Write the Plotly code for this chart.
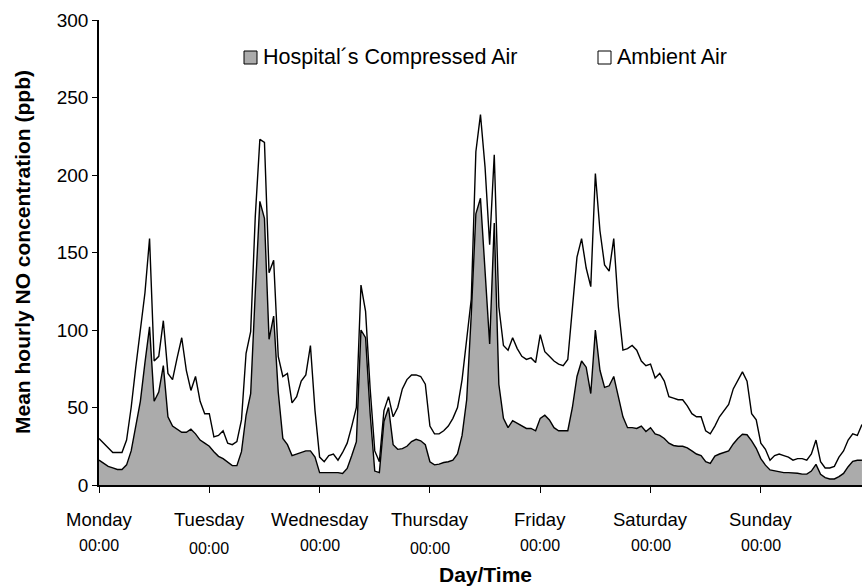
import plotly.graph_objects as go

hours = list(range(167))

ambient = [30, 27, 24, 21, 21, 21, 29, 50, 76, 100, 124, 159, 80, 83, 106, 72, 68, 82, 95, 74,
           61, 70, 54, 46, 46, 31, 32, 35, 27, 26, 28, 42, 85, 99, 173, 223, 221, 137, 145, 83,
           70, 72, 53, 57, 67, 71, 90, 48, 18, 15, 19, 20, 16, 21, 27, 38, 50, 129, 112, 62,
           22, 15, 48, 57, 44, 50, 62, 68, 71, 71, 70, 65, 38, 33, 33, 35, 38, 43, 50, 68,
           95, 120, 215, 239, 205, 155, 213, 115, 90, 87, 95, 88, 83, 81, 82, 79, 97, 86, 83, 80,
           78, 77, 81, 112, 147, 159, 140, 128, 201, 164, 142, 138, 159, 115, 87, 88, 90, 87, 80, 77,
           78, 69, 72, 67, 57, 56, 55, 55, 51, 46, 44, 44, 35, 33, 38, 44, 48, 52, 62, 68,
           73, 67, 46, 42, 27, 23, 16, 19, 20, 19, 18, 16, 17, 17, 16, 20, 29, 15, 11, 11,
           12, 18, 22, 29, 33, 32, 39]

hospital = [16, 14, 12, 11, 10, 10, 13, 22, 38, 54, 79, 102, 54, 60, 77, 44, 38, 36, 34, 34,
            36, 33, 29, 27, 25, 21.5, 18.5, 17, 15, 12.5, 12.5, 21.5, 45, 59, 124, 183, 172, 94, 109, 60,
            30, 26, 19, 20, 21, 22, 22, 18, 8, 8, 8, 8, 8, 7.5, 10.7, 19, 28, 100, 95, 46,
            9, 8, 41, 50, 26, 23, 23.5, 25, 28, 29.5, 28.5, 26, 15, 13, 13.5, 14.5, 15, 16, 20, 32,
            55, 110, 175, 185, 140, 91, 169, 65, 43, 37, 41.5, 40, 38, 36.5, 36.5, 35, 43, 45, 42, 37,
            35, 35, 35, 50, 70, 80, 76, 59, 100, 74, 63, 64, 70, 57, 44, 37, 37, 36.5, 38, 34.5,
            37, 33, 32, 30, 27, 25.5, 25, 25, 24, 22, 20, 19, 15, 14, 18.7, 20, 21, 22, 26.5, 30,
            32.7, 32.4, 28.5, 23.7, 17, 12.8, 9.7, 9, 8.6, 8, 8, 8, 7.6, 7, 7, 9, 13.3, 6.9, 4.8, 3.9,
            3.9, 5.4, 7.5, 11.8, 15.3, 16, 16]

day_names = ["Monday", "Tuesday", "Wednesday", "Thursday", "Friday", "Saturday", "Sunday"]
day_hours = [0, 24, 48, 72, 96, 120, 144]
time_label = "00:00"
y_ticks = [0, 50, 100, 150, 200, 250, 300]

FONT = "Liberation Sans, Arial, sans-serif"

fig = go.Figure()
fig.add_trace(go.Scatter(x=hours, y=ambient, mode="lines",
                         line=dict(color="black", width=1.4), showlegend=False,
                         hoverinfo="skip"))
fig.add_trace(go.Scatter(x=hours, y=hospital, mode="lines", fill="tozeroy",
                         fillcolor="#ababab", line=dict(color="black", width=1.4),
                         showlegend=False, hoverinfo="skip"))

W, H = 862, 587
L, R, T, B = 99, 0, 20, 102
pw, ph = W - L - R, H - T - B


def px(x):
    return (x - L) / pw


def py(y):
    return (H - B - y) / ph


annotations = []
time_offsets = [0, 3, 0, 3, 0, 0, 0]
for d, h, off in zip(day_names, day_hours, time_offsets):
    annotations.append(dict(x=h, y=py(519), xref="x", yref="paper", text=d,
                            showarrow=False, xanchor="center", yanchor="middle",
                            font=dict(family=FONT, size=18.5, color="black")))
    annotations.append(dict(x=h, y=py(545 + off), xref="x", yref="paper", text=time_label,
                            showarrow=False, xanchor="center", yanchor="middle",
                            font=dict(family=FONT, size=16, color="black")))

annotations.append(dict(x=px(261), y=py(57), xref="paper", yref="paper",
                        text="Hospital´s Compressed Air", showarrow=False,
                        xanchor="left", yanchor="middle",
                        font=dict(family=FONT, size=21.5, color="black")))
annotations.append(dict(x=px(615), y=py(57), xref="paper", yref="paper",
                        text="Ambient Air", showarrow=False,
                        xanchor="left", yanchor="middle",
                        font=dict(family=FONT, size=21.5, color="black")))
annotations.append(dict(x=px(485), y=py(574), xref="paper", yref="paper",
                        text="<b>Day/Time</b>", showarrow=False,
                        xanchor="center", yanchor="middle",
                        font=dict(family=FONT, size=21, color="black")))
annotations.append(dict(x=px(22), y=py(252), xref="paper", yref="paper",
                        text="<b>Mean hourly NO concentration (ppb)</b>", showarrow=False,
                        textangle=-90, xanchor="center", yanchor="middle",
                        font=dict(family=FONT, size=21, color="black")))

shapes = [
    dict(type="rect", xref="paper", yref="paper", x0=px(244), x1=px(257), y0=py(64), y1=py(51),
         fillcolor="#ababab", line=dict(color="black", width=1)),
    dict(type="rect", xref="paper", yref="paper", x0=px(598), x1=px(611), y0=py(64), y1=py(51),
         fillcolor="white", line=dict(color="black", width=1)),
]

fig.update_layout(
    width=W, height=H,
    margin=dict(l=L, r=R, t=T, b=B, autoexpand=False),
    paper_bgcolor="white", plot_bgcolor="white",
    font=dict(family=FONT, color="black"),
    annotations=annotations,
    shapes=shapes,
    xaxis=dict(range=[0, pw / 4.596], showgrid=False, zeroline=False, automargin=False,
               showline=True, linecolor="black", linewidth=1.5,
               ticks="outside", tickvals=day_hours, ticklen=6, tickwidth=1.2,
               tickcolor="black", showticklabels=False),
    yaxis=dict(range=[0, 300], showgrid=False, zeroline=False, automargin=False,
               showline=True, linecolor="black", linewidth=1.5,
               ticks="outside", tickvals=y_ticks, ticklen=5, tickwidth=1.2,
               tickcolor="black", tickfont=dict(family=FONT, size=19)),
)

fig.write_html("out.html", config=dict(displayModeBar=False),
               post_script="document.body.style.margin='0px';document.body.style.overflow='hidden';")
